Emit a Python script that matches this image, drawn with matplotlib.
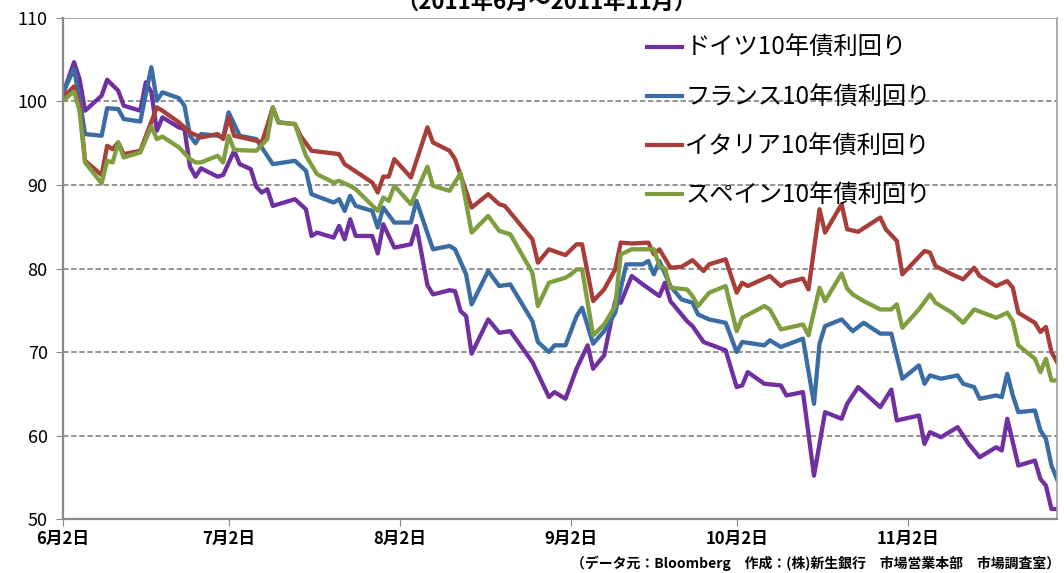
import matplotlib
matplotlib.use("Agg")
import matplotlib.pyplot as plt
import pandas as pd

plt.rcParams['font.family'] = ['Noto Sans CJK JP', 'DejaVu Sans']

# 10-year government bond yields, indexed (Jun 2 = 100)
de_dates = ["06-02", "06-04", "06-05", "06-06", "06-09", "06-10", "06-12", "06-13", "06-16", "06-17",
            "06-18", "06-19", "06-20", "06-23", "06-24", "06-25", "06-26", "06-27", "06-30", "07-01",
            "07-03", "07-04", "07-06", "07-07", "07-08", "07-09", "07-10", "07-14", "07-16", "07-17",
            "07-18", "07-21", "07-22", "07-23", "07-24", "07-25", "07-28", "07-29", "07-30", "08-01",
            "08-04", "08-05", "08-07", "08-08", "08-11", "08-12", "08-13", "08-14", "08-15", "08-18",
            "08-20", "08-22", "08-26", "08-29", "08-30", "09-01", "09-03", "09-05", "09-06", "09-08",
            "09-10", "09-11", "09-13", "09-15", "09-18", "09-19", "09-20", "09-23", "09-24", "09-26",
            "09-30", "10-02", "10-03", "10-04", "10-07", "10-10", "10-11", "10-14", "10-16", "10-18",
            "10-21", "10-22", "10-24", "10-28", "10-30", "10-31", "11-04", "11-05", "11-06", "11-08",
            "11-11", "11-13", "11-15", "11-18", "11-19", "11-20", "11-22", "11-25", "11-26", "11-27",
            "11-28", "11-29"]
de_vals = [100.9, 104.7, 102.7, 98.9, 100.7, 102.6, 101.3, 99.5, 98.9, 102.3,
           101.1, 96.5, 98.1, 96.9, 96.7, 92.2, 91.0, 92.0, 91.0, 91.2,
           94.1, 92.5, 91.9, 89.8, 89.1, 89.5, 87.5, 88.3, 87.1, 83.9,
           84.3, 83.7, 85.1, 83.5, 85.9, 83.9, 83.9, 81.8, 85.3, 82.5,
           82.9, 85.1, 78.0, 76.9, 77.4, 77.3, 74.9, 74.3, 69.8, 73.9,
           72.3, 72.5, 68.8, 64.6, 65.2, 64.4, 68.0, 70.8, 68.0, 69.6,
           76.1, 75.9, 79.1, 78.1, 76.7, 78.3, 76.1, 73.7, 73.1, 71.2,
           70.2, 65.8, 66.0, 67.6, 66.2, 66.0, 64.8, 65.2, 55.2, 62.8,
           62.0, 63.8, 65.8, 63.4, 65.5, 61.8, 62.4, 59.0, 60.4, 59.8,
           61.0, 59.0, 57.4, 58.6, 58.2, 62.0, 56.4, 57.0, 54.8, 54.0,
           51.2, 51.2]

fr_dates = ["06-02", "06-04", "06-05", "06-06", "06-09", "06-10", "06-12", "06-13", "06-16", "06-17",
            "06-18", "06-19", "06-20", "06-23", "06-24", "06-25", "06-26", "06-27", "06-30", "07-01",
            "07-02", "07-04", "07-07", "07-08", "07-09", "07-10", "07-14", "07-16", "07-17", "07-21",
            "07-22", "07-23", "07-24", "07-25", "07-28", "07-29", "07-30", "08-01", "08-04", "08-05",
            "08-08", "08-11", "08-12", "08-14", "08-15", "08-18", "08-20", "08-22", "08-26", "08-27",
            "08-29", "08-30", "09-01", "09-03", "09-04", "09-06", "09-08", "09-10", "09-12", "09-15",
            "09-16", "09-17", "09-18", "09-20", "09-22", "09-24", "09-25", "09-27", "09-30", "10-02",
            "10-03", "10-07", "10-08", "10-10", "10-14", "10-16", "10-17", "10-18", "10-21", "10-23",
            "10-25", "10-28", "10-30", "11-01", "11-04", "11-05", "11-06", "11-08", "11-11", "11-12",
            "11-14", "11-15", "11-18", "11-19", "11-20", "11-21", "11-22", "11-25", "11-26", "11-27",
            "11-28", "11-29"]
fr_vals = [101.1, 103.9, 100.3, 96.1, 95.9, 99.2, 99.1, 97.9, 97.6, 100.9,
           104.1, 100.1, 101.1, 100.4, 99.5, 95.9, 95.0, 96.1, 95.9, 95.7,
           98.7, 95.9, 95.5, 94.5, 93.5, 92.5, 92.9, 91.7, 88.9, 87.9,
           88.3, 86.9, 88.7, 87.5, 86.9, 84.9, 87.3, 85.5, 85.5, 88.1,
           82.3, 82.7, 82.3, 79.3, 75.7, 79.7, 77.9, 78.1, 73.7, 71.2,
           70.0, 70.8, 70.8, 74.3, 75.3, 71.0, 72.5, 74.7, 80.5, 80.5,
           80.9, 79.3, 80.9, 77.9, 76.3, 75.9, 74.5, 73.9, 73.5, 70.0,
           71.2, 70.8, 71.4, 70.6, 71.6, 63.8, 71.0, 73.1, 73.9, 72.5,
           73.5, 72.2, 72.2, 66.8, 68.4, 66.2, 67.2, 66.8, 67.2, 66.2,
           65.8, 64.4, 64.8, 64.6, 67.4, 64.8, 62.8, 63.0, 60.6, 59.6,
           56.4, 54.8]

it_dates = ["06-02", "06-04", "06-05", "06-06", "06-09", "06-10", "06-11", "06-12", "06-13", "06-16",
            "06-19", "06-20", "06-23", "06-25", "06-27", "06-30", "07-01", "07-02", "07-03", "07-07",
            "07-08", "07-09", "07-10", "07-11", "07-14", "07-15", "07-17", "07-22", "07-23", "07-28",
            "07-29", "07-30", "07-31", "08-01", "08-04", "08-07", "08-08", "08-11", "08-12", "08-15",
            "08-18", "08-20", "08-21", "08-26", "08-27", "08-29", "09-01", "09-03", "09-04", "09-06",
            "09-08", "09-10", "09-11", "09-13", "09-16", "09-17", "09-18", "09-20", "09-22", "09-24",
            "09-26", "09-27", "09-30", "10-02", "10-03", "10-04", "10-08", "10-10", "10-11", "10-14",
            "10-15", "10-17", "10-18", "10-21", "10-22", "10-24", "10-28", "10-29", "10-31", "11-01",
            "11-05", "11-06", "11-07", "11-10", "11-12", "11-14", "11-15", "11-18", "11-20", "11-21",
            "11-22", "11-25", "11-26", "11-27", "11-28", "11-29"]
it_vals = [100.5, 101.8, 99.5, 92.9, 91.2, 94.7, 94.3, 95.1, 93.7, 94.1,
           99.3, 98.9, 97.5, 96.3, 95.7, 96.1, 95.5, 98.1, 95.9, 95.3,
           95.1, 97.1, 99.3, 97.5, 97.3, 95.9, 94.1, 93.7, 92.5, 90.3,
           89.1, 91.0, 91.0, 93.1, 90.9, 96.9, 95.1, 94.1, 93.1, 87.3,
           88.9, 87.7, 87.5, 83.5, 80.7, 82.3, 81.6, 82.9, 82.9, 76.1,
           77.5, 79.9, 83.1, 83.0, 83.1, 81.7, 82.3, 80.1, 80.2, 81.0,
           79.7, 80.5, 81.1, 77.1, 78.3, 77.9, 79.1, 77.9, 78.3, 78.8,
           77.5, 87.1, 84.3, 87.7, 84.7, 84.4, 86.1, 84.7, 83.3, 79.3,
           82.1, 81.9, 80.3, 79.3, 78.7, 80.1, 79.1, 77.9, 78.5, 77.7,
           74.7, 73.5, 72.4, 73.0, 70.0, 68.8]

es_dates = ["06-02", "06-04", "06-05", "06-06", "06-09", "06-10", "06-11", "06-12", "06-13", "06-16",
            "06-18", "06-19", "06-20", "06-23", "06-25", "06-26", "06-27", "06-30", "07-01", "07-02",
            "07-03", "07-07", "07-09", "07-10", "07-11", "07-14", "07-16", "07-18", "07-21", "07-22",
            "07-24", "07-25", "07-29", "07-30", "07-31", "08-01", "08-04", "08-07", "08-08", "08-11",
            "08-13", "08-15", "08-18", "08-20", "08-22", "08-26", "08-27", "08-29", "09-01", "09-02",
            "09-03", "09-04", "09-06", "09-08", "09-10", "09-11", "09-13", "09-17", "09-18", "09-19",
            "09-20", "09-23", "09-24", "09-25", "09-27", "09-30", "10-02", "10-03", "10-07", "10-08",
            "10-10", "10-14", "10-15", "10-17", "10-18", "10-21", "10-22", "10-23", "10-25", "10-28",
            "10-30", "10-31", "11-01", "11-04", "11-06", "11-07", "11-10", "11-12", "11-14", "11-18",
            "11-20", "11-21", "11-22", "11-25", "11-26", "11-27", "11-28", "11-29"]
es_vals = [100.1, 101.2, 98.9, 92.7, 90.2, 92.9, 92.7, 95.1, 93.3, 93.9,
           97.0, 95.5, 95.8, 94.5, 93.1, 92.7, 92.7, 93.5, 92.7, 95.9,
           94.2, 94.1, 95.5, 99.3, 97.5, 97.3, 93.5, 91.3, 90.3, 90.5,
           89.9, 89.5, 86.9, 88.5, 88.1, 89.9, 87.7, 92.2, 89.9, 89.3,
           91.4, 84.3, 86.3, 84.5, 84.1, 79.5, 75.5, 78.3, 78.9, 79.3,
           79.9, 79.9, 72.0, 73.3, 75.5, 81.7, 82.3, 82.3, 80.3, 80.0,
           77.7, 77.5, 76.7, 75.5, 77.1, 77.9, 72.5, 74.1, 75.5, 75.1,
           72.7, 73.3, 72.0, 77.7, 76.1, 79.4, 77.6, 76.9, 76.1, 75.1,
           75.1, 75.7, 72.9, 75.1, 76.9, 75.9, 74.7, 73.5, 75.1, 74.1,
           74.7, 73.7, 70.8, 69.2, 67.6, 69.2, 66.6, 66.6]

series_labels = ["ドイツ10年債利回り", "フランス10年債利回り", "イタリア10年債利回り", "スペイン10年債利回り"]
series_colors = ["#7030A0", "#3B6DA5", "#A83E3A", "#7F9E3F"]

xtick_dates = ["06-02", "07-02", "08-02", "09-02", "10-02", "11-02"]
xtick_labels = ["6月2日", "7月2日", "8月2日", "9月2日", "10月2日", "11月2日"]
yticks = [50, 60, 70, 80, 90, 100, 110]

title = "（2011年6月～2011年11月）"
source = "（データ元：Bloomberg　作成：(株)新生銀行　市場営業本部　市場調査室）"


def to_dt(days):
    return pd.to_datetime(["2011-" + d for d in days])


fig = plt.figure(figsize=(10.64, 5.73), dpi=100)
ax = fig.add_axes([0.0592, 0.0942, 0.9342, 0.8744])

all_series = [(de_dates, de_vals), (fr_dates, fr_vals), (it_dates, it_vals), (es_dates, es_vals)]
for (d, v), lab, col in zip(all_series, series_labels, series_colors):
    ax.plot(to_dt(d), v, color=col, lw=3.1, label=lab, solid_joinstyle='round')

ax.set_ylim(50, 110)
ax.set_yticks(yticks)
ax.set_xlim(pd.Timestamp("2011-06-02"), pd.Timestamp("2011-11-29"))
ax.set_xticks(to_dt(xtick_dates))
ax.set_xticklabels(xtick_labels, fontsize=12, fontweight='bold')
ax.tick_params(axis='y', labelsize=13, length=5, color='#888888', pad=6)
ax.tick_params(axis='x', length=5, color='#888888', pad=3)

for y in yticks[1:-1]:
    ax.axhline(y, color='#8c8c8c', lw=1.3, ls=(0, (3, 1.5)), zorder=0)
ax.axhline(110, color='#a0a0a0', lw=1.3, zorder=0)

for side in ['left', 'bottom']:
    ax.spines[side].set_color('#888888')
    ax.spines[side].set_linewidth(1.6)
ax.spines['top'].set_visible(False)
ax.spines['right'].set_color('#a0a0a0')
ax.spines['right'].set_linewidth(1.2)

leg = ax.legend(loc='upper left', bbox_to_anchor=(0.578, 0.985), frameon=False,
                fontsize=17.5, handlelength=1.45, handletextpad=0.12, labelspacing=0.95,
                borderaxespad=0)
for h in leg.get_lines():
    h.set_linewidth(3.0)

fig.text(0.513, 0.984, title, ha='center', va='baseline', fontsize=16, fontweight='bold')
fig.text(0.996, 0.003, source, ha='right', va='bottom', fontsize=10, fontweight='bold')

fig.savefig("out.png", dpi=100)
